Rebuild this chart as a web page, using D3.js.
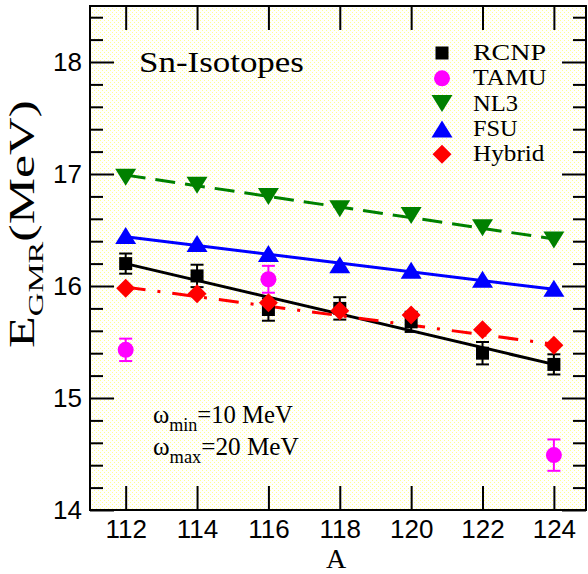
<!DOCTYPE html>
<html>
<head>
<meta charset="utf-8">
<script src="https://cdn.jsdelivr.net/npm/d3@7"></script>
<style>
  html, body { margin: 0; padding: 0; background: #fff; }
  svg { display: block; }
</style>
</head>
<body>
<svg id="chart" width="588" height="574"></svg>
<script>
// Mass numbers of the Sn isotopes
const massNumbers = [112, 114, 116, 118, 120, 122, 124];

// Experimental centroid energies (MeV) with uncertainties
const rcnpValues = [16.20, 16.09, 15.79, 15.80, 15.68, 15.40, 15.30];
const rcnpErrors = [0.09, 0.10, 0.10, 0.10, 0.09, 0.10, 0.09];
const tamuA = [112, 116, 124];
const tamuValues = [15.43, 16.06, 14.49];
const tamuErrors = [0.10, 0.12, 0.14];

// Model predictions (MeV)
const nl3Values = [16.97, 16.90, 16.80, 16.69, 16.63, 16.52, 16.41];
const fsuValues = [16.45, 16.38, 16.29, 16.19, 16.14, 16.06, 15.98];
const hybridValues = [15.98, 15.93, 15.85, 15.78, 15.74, 15.61, 15.47];

// End points of the straight-line trends [A, E]
const rcnpTrend = [[112, 16.20], [124, 15.30]];
const nl3Trend = [[112, 16.99], [124, 16.42]];
const fsuTrend = [[112, 16.44], [124, 15.97]];
const hybridTrend = [[112, 15.99], [124, 15.48]];

// Axis ticks
const xTicks = [112, 114, 116, 118, 120, 122, 124];
const yTicks = [14, 15, 16, 17, 18];
const yMinorTicks = d3.range(70, 93).map(v => v / 5).filter(v => !Number.isInteger(v));

const legendNames = ["RCNP", "TAMU", "NL3", "FSU", "Hybrid"];

const SERIF = "'Liberation Serif', 'Times New Roman', Times, serif";
const SANS = "'Liberation Sans', Arial, Helvetica, sans-serif";

const svg = d3.select("#chart");
const L = 90, R = 586, T = 6, B = 510;
const x = d3.scaleLinear().domain([111, 124.9]).range([L, R]);
const y = d3.scaleLinear().domain([14, 18.5]).range([B, T]);

// Dotted pale-yellow fill of the plotting area
const defs = svg.append("defs");
const pat = defs.append("pattern").attr("id", "dots")
  .attr("patternUnits", "userSpaceOnUse").attr("width", 4).attr("height", 4);
pat.append("rect").attr("width", 4).attr("height", 4).attr("fill", "#ffffff");
pat.append("rect").attr("x", 0).attr("y", 0).attr("width", 1).attr("height", 1).attr("fill", "#ffff90");
pat.append("rect").attr("x", 2).attr("y", 2).attr("width", 1).attr("height", 1).attr("fill", "#ffff90");
svg.append("rect").attr("x", L).attr("y", T).attr("width", R - L).attr("height", B - T)
  .attr("fill", "url(#dots)").attr("shape-rendering", "crispEdges");

// Axes with inward ticks on all four sides
function styleAxis(g, showText) {
  g.select(".domain").remove();
  g.selectAll(".tick line").attr("stroke", "#000").attr("stroke-width", 2);
  if (!showText) g.selectAll(".tick text").remove();
  else g.selectAll(".tick text").attr("font-size", 26).attr("fill", "#000")
    .attr("font-family", SANS);
}
svg.append("g").attr("transform", `translate(0,${B})`)
  .call(d3.axisBottom(x).tickValues(xTicks).tickSize(-24).tickPadding(10).tickFormat(d3.format("d")))
  .call(g => styleAxis(g, true));
svg.append("g").attr("transform", `translate(0,${T})`)
  .call(d3.axisTop(x).tickValues(xTicks).tickSize(-24))
  .call(g => styleAxis(g, false));
svg.append("g").attr("transform", `translate(${L},0)`)
  .call(d3.axisLeft(y).tickValues(yTicks).tickSize(-24).tickPadding(8).tickFormat(d3.format("d")))
  .call(g => styleAxis(g, true));
svg.append("g").attr("transform", `translate(${L},0)`)
  .call(d3.axisLeft(y).tickValues(yMinorTicks).tickSize(-13))
  .call(g => styleAxis(g, false));
svg.append("g").attr("transform", `translate(${R},0)`)
  .call(d3.axisRight(y).tickValues(yTicks).tickSize(-24))
  .call(g => styleAxis(g, false));
svg.append("g").attr("transform", `translate(${R},0)`)
  .call(d3.axisRight(y).tickValues(yMinorTicks).tickSize(-13))
  .call(g => styleAxis(g, false));

// Trend lines
const line = d3.line().x(d => x(d[0])).y(d => y(d[1]));
const trends = [
  { data: nl3Trend, color: "#008000", dash: "20,10" },
  { data: fsuTrend, color: "#0000ff", dash: null },
  { data: rcnpTrend, color: "#000000", dash: null },
  { data: hybridTrend, color: "#ff0000", dash: "20,12,3,12" }
];
trends.forEach(t => {
  svg.append("path").datum(t.data).attr("d", line)
    .attr("fill", "none").attr("stroke", t.color).attr("stroke-width", 3)
    .attr("stroke-dasharray", t.dash);
});

// Marker shapes, centred on the data point
const shapes = {
  square: "M-6.5,-6.5H6.5V6.5H-6.5Z",
  down: "M-10.5,-8.5L10.5,-8.5L0,8.5Z",
  up: "M-10.5,8.5L10.5,8.5L0,-8.5Z",
  diamond: "M0,-9.5L9.5,0L0,9.5L-9.5,0Z"
};

function errorBars(A, vals, errs, color) {
  const g = svg.append("g").attr("stroke", color).attr("stroke-width", 2);
  A.forEach((a, i) => {
    const cx = x(a), y1 = y(vals[i] + errs[i]), y2 = y(vals[i] - errs[i]);
    g.append("line").attr("x1", cx).attr("x2", cx).attr("y1", y1).attr("y2", y2);
    g.append("line").attr("x1", cx - 6.5).attr("x2", cx + 6.5).attr("y1", y1).attr("y2", y1);
    g.append("line").attr("x1", cx - 6.5).attr("x2", cx + 6.5).attr("y1", y2).attr("y2", y2);
  });
}
function markers(A, vals, shape, color) {
  svg.append("g").selectAll("path").data(A.map((a, i) => [a, vals[i]])).join("path")
    .attr("d", shapes[shape]).attr("fill", color)
    .attr("transform", d => `translate(${x(d[0])},${y(d[1])})`);
}

errorBars(massNumbers, rcnpValues, rcnpErrors, "#000");
markers(massNumbers, rcnpValues, "square", "#000");
errorBars(tamuA, tamuValues, tamuErrors, "#ff00ff");
svg.append("g").selectAll("circle").data(tamuA.map((a, i) => [a, tamuValues[i]])).join("circle")
  .attr("cx", d => x(d[0])).attr("cy", d => y(d[1])).attr("r", 8).attr("fill", "#ff00ff");
markers(massNumbers, nl3Values, "down", "#008000");
markers(massNumbers, fsuValues, "up", "#0000ff");
markers(massNumbers, hybridValues, "diamond", "#ff0000");

// Frame
svg.append("rect").attr("x", L).attr("y", T).attr("width", R - L).attr("height", B - T)
  .attr("fill", "none").attr("stroke", "#000").attr("stroke-width", 2);

// Stretch a text element horizontally to a given width
function fitWidth(sel, w) {
  const bb = sel.node().getBBox();
  const sx = w / bb.width;
  const x0 = +sel.attr("x") || 0;
  sel.attr("transform", `translate(${x0 * (1 - sx)},0) scale(${sx},1)`);
}
function serifText(px, py, size) {
  return svg.append("text").attr("x", px).attr("y", py)
    .attr("font-family", SERIF).attr("font-size", size).attr("fill", "#000");
}

// Legend
const legendSymbols = [
  { shape: "square", color: "#000" },
  { shape: "circle", color: "#ff00ff" },
  { shape: "down", color: "#008000" },
  { shape: "up", color: "#0000ff" },
  { shape: "diamond", color: "#ff0000" }
];
const legendWidths = [73, 74, 45, 45, 72];
legendNames.forEach((name, i) => {
  const base = 60 + i * 25.3;
  const sym = legendSymbols[i];
  if (sym.shape === "circle") {
    svg.append("circle").attr("cx", 442).attr("cy", base - 7).attr("r", 8).attr("fill", sym.color);
  } else {
    svg.append("path").attr("d", shapes[sym.shape]).attr("fill", sym.color)
      .attr("transform", `translate(442,${base - 7})`);
  }
  const t = serifText(473, base, 23).text(name);
  fitWidth(t, legendWidths[i]);
});

// Title inside the plot
const title = serifText(139, 72, 30).text("Sn-Isotopes");
fitWidth(title, 165);

// Energy window annotations
const w1 = serifText(153, 423, 26);
w1.append("tspan").text("ω");
w1.append("tspan").attr("font-size", 19).attr("dy", 8).text("min");
w1.append("tspan").attr("dy", -8).text("=10 MeV");
fitWidth(w1, 140);
const w2 = serifText(153, 455, 26);
w2.append("tspan").text("ω");
w2.append("tspan").attr("font-size", 19).attr("dy", 8).text("max");
w2.append("tspan").attr("dy", -8).text("=20 MeV");
fitWidth(w2, 146);

// Axis titles
serifText((L + R) / 2 - 2, 568, 28).attr("text-anchor", "middle").text("A");

const yt = svg.append("text").attr("font-family", SERIF).attr("font-size", 35)
  .attr("text-anchor", "middle").attr("fill", "#000");
yt.append("tspan").text("E");
yt.append("tspan").attr("font-size", 22).attr("dy", 9).text("GMR");
yt.append("tspan").attr("dy", -9).text("(MeV)");
const ybb = yt.node().getBBox();
const sy = 248 / ybb.width;
yt.attr("transform", `translate(34,224) rotate(-90) scale(${sy},1)`);
</script>
</body>
</html>
